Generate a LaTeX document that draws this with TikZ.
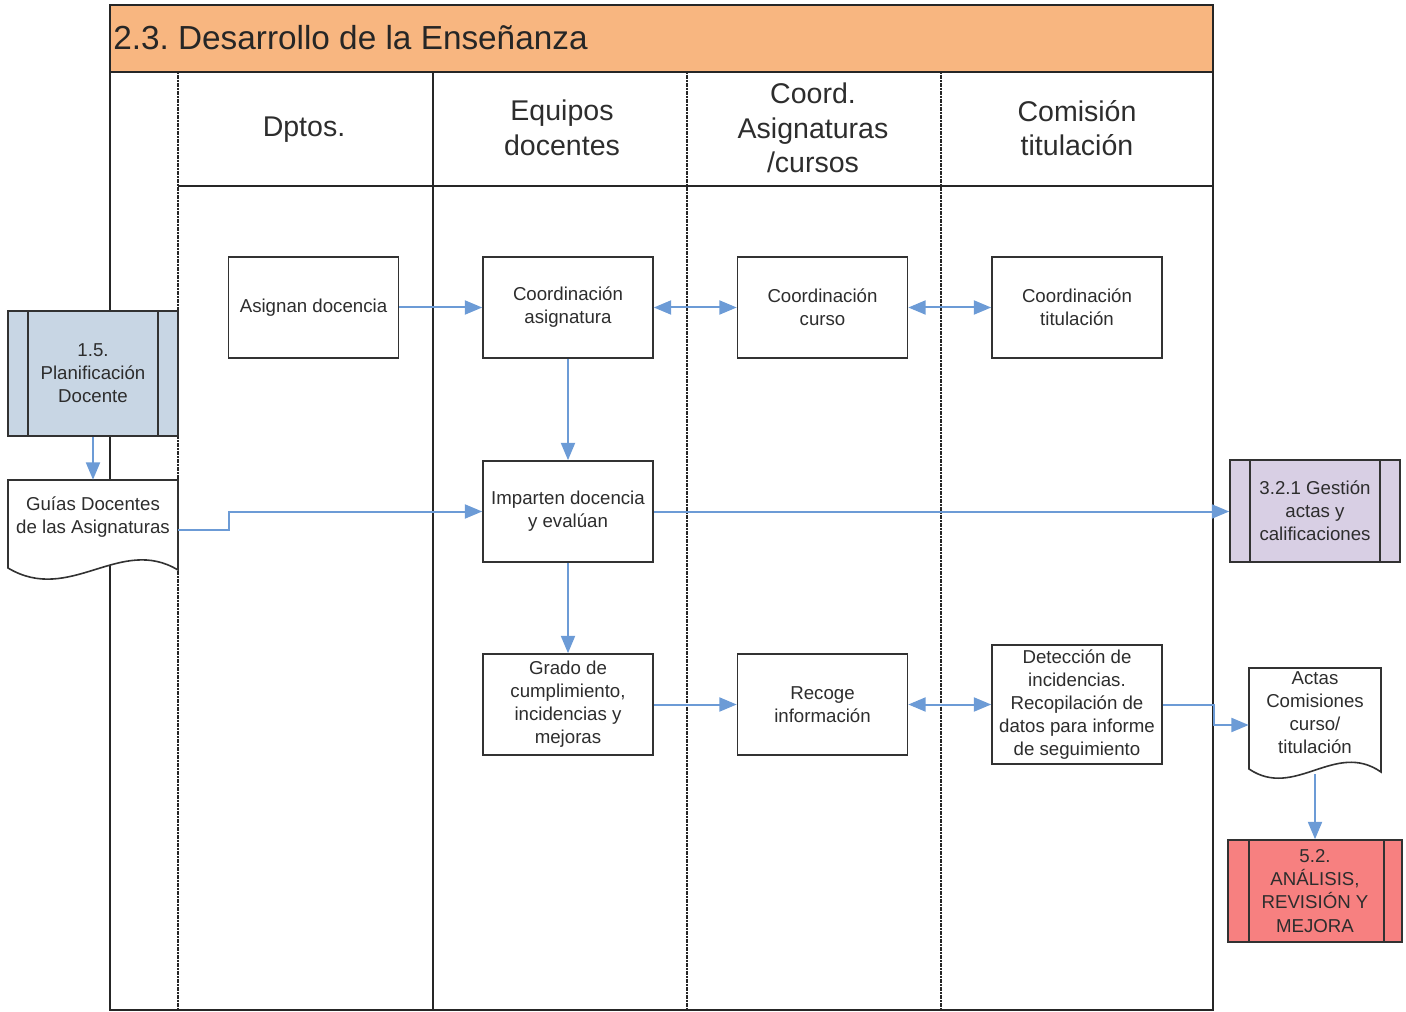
\documentclass[tikz,border=0pt]{standalone}
\usepackage{fontspec}
\setmainfont{Liberation Sans}
\usetikzlibrary{arrows.meta,calc}
\definecolor{arrowblue}{RGB}{108,155,214}
\definecolor{boxline}{RGB}{50,50,50}
\definecolor{txtgray}{RGB}{45,45,45}
\definecolor{titleorange}{RGB}{248,182,128}
\definecolor{planblue}{RGB}{200,214,228}
\definecolor{lavender}{RGB}{216,207,228}
\definecolor{redbox}{RGB}{247,128,128}
\newcommand\bxfont{\fontsize{14}{17.3}\selectfont}
\newcommand\hdfont{\fontsize{21.4}{26}\selectfont}
\newcommand\ttlfont{\fontsize{25}{30}\selectfont}
\frenchspacing
\tikzset{
  procbox/.style={draw=boxline, line width=1.2pt, fill=white, minimum width=127.5pt,
    minimum height=75.75pt, inner sep=2pt, align=center, font=\bxfont, text=txtgray},
  subproc/.style={procbox, minimum height=76.5pt},
  txt/.style={align=center, font=\bxfont, text=txtgray, inner sep=0pt},
  hdr/.style={align=center, font=\hdfont, text=txtgray, inner sep=0pt},
  frame/.style={draw=black!85, line width=1.6pt},
  lanesep/.style={draw=black!85, line width=1.3pt, dash pattern=on 1.5pt off 0.5pt},
  docshape/.style={draw=boxline, line width=1.2pt, fill=white},
  conn/.style={draw=arrowblue, line width=1.5pt, -{Triangle[length=13pt,width=10.5pt]}},
  dconn/.style={draw=arrowblue, line width=1.5pt, {Triangle[length=13pt,width=10.5pt]}-{Triangle[length=13pt,width=10.5pt]}},
}
\begin{document}
\begin{tikzpicture}[x=0.75pt,y=-0.75pt]
\useasboundingbox (0,0) rectangle (1406,1012);
% title band
\fill[titleorange] (110,5) rectangle (1213,72);
\node[anchor=west, font=\ttlfont, text=black!85, inner sep=0pt] (title) at (113,38) {2.3. Desarrollo de la Enseñanza};
% lanes
\draw[lanesep] (178,72) -- (178,1010);
\draw[frame, line width=1.2pt] (433,72) -- (433,1010);
\draw[lanesep] (687,72) -- (687,1010);
\draw[lanesep] (941,72) -- (941,1010);
\draw[frame, line width=1.2pt] (178,186) -- (1213,186);
\draw[frame, line width=2pt] (110,72) -- (1213,72);
\draw[frame, line width=2pt] (110,5) rectangle (1213,1010);
% headers
\node[hdr] (h1) at (304,130) {Dptos.};
\node[hdr] (h2) at (562,128) {Equipos\\docentes};
\node[hdr] (h3) at (813,128) {Coord.\\Asignaturas\\/cursos};
\node[hdr] (h4) at (1077,128) {Comisión\\titulación};
% process boxes
\node[procbox] (asig) at (313.5,307.5) {Asignan docencia};
\node[procbox] (casig) at (568,307.5) {Coordinación\\asignatura};
\node[procbox] (ccurso) at (822.5,307.5) {Coordinación\\curso};
\node[procbox] (ctit) at (1077,307.5) {Coordinación\\titulación};
\node[procbox] (imp) at (568,511.5) {Imparten docencia\\y evalúan};
\node[procbox] (grado) at (568,704.5) {Grado de\\cumplimiento,\\incidencias y\\mejoras};
\node[procbox] (recoge) at (822.5,704.5) {Recoge\\información};
\node[procbox, minimum height=89.25pt] (detec) at (1077,704.5) {Detección de\\incidencias.\\Recopilación de\\datos para informe\\de seguimiento};
% predefined processes
\node[subproc, fill=planblue, minimum height=93.75pt] (plan) at (93,373.5) {1.5.\\Planificación\\Docente};
\draw[boxline, line width=1.4pt] ([xshift=15.75pt]plan.north west) -- ([xshift=15.75pt]plan.south west)
  ([xshift=-15.75pt]plan.north east) -- ([xshift=-15.75pt]plan.south east);
\node[subproc, fill=lavender] (gest) at (1315,511) {3.2.1 Gestión\\actas y\\calificaciones};
\draw[boxline, line width=1.4pt] ([xshift=15.75pt]gest.north west) -- ([xshift=15.75pt]gest.south west)
  ([xshift=-15.75pt]gest.north east) -- ([xshift=-15.75pt]gest.south east);
\node[subproc, fill=redbox, minimum width=130.5pt] (anal) at (1315,891) {5.2.\\ANÁLISIS,\\REVISIÓN Y\\MEJORA};
\draw[boxline, line width=1.4pt] ([xshift=16.5pt]anal.north west) -- ([xshift=16.5pt]anal.south west)
  ([xshift=-14.25pt]anal.north east) -- ([xshift=-14.25pt]anal.south east);
% documents
\node[minimum width=127.5pt, minimum height=75pt, inner sep=0pt] (guias) at (93,530) {};
\draw[docshape] (8,480) -- (178,480) -- (178,570) .. controls (120,535) and (70,605) .. (8,568) -- cycle;
\node[txt] (guiastxt) at (93,517.5) {Guías Docentes\\de las Asignaturas};
\node[minimum width=99pt, minimum height=79.5pt, inner sep=0pt] (actas) at (1315,721) {};
\draw[docshape] (1249,668) -- (1381,668) -- (1381,772) .. controls (1335,740) and (1295,800) .. (1249,769) -- cycle;
\node[txt] (actastxt) at (1315,712.5) {Actas\\Comisiones\\curso/\\titulación};
% connectors
\draw[conn] (asig) -- (casig);
\draw[dconn] (casig) -- (ccurso);
\draw[dconn] (ccurso) -- (ctit);
\draw[conn] (casig) -- (imp);
\draw[conn] (imp) -- (grado);
\draw[conn] (grado) -- (recoge);
\draw[dconn] (recoge) -- (detec);
\draw[conn] (plan) -- (guias.north);
\draw[conn] (guias.east) -- ++(51,0) |- (imp.west);
\draw[conn] (imp.east) -- (imp.east -| gest.west);
\draw[conn] (detec.east) -- ++(51,0) |- ($(actas.west)+(0,4)$);
\draw[conn] (actas.south) -- (anal.north);
\end{tikzpicture}
\end{document}
